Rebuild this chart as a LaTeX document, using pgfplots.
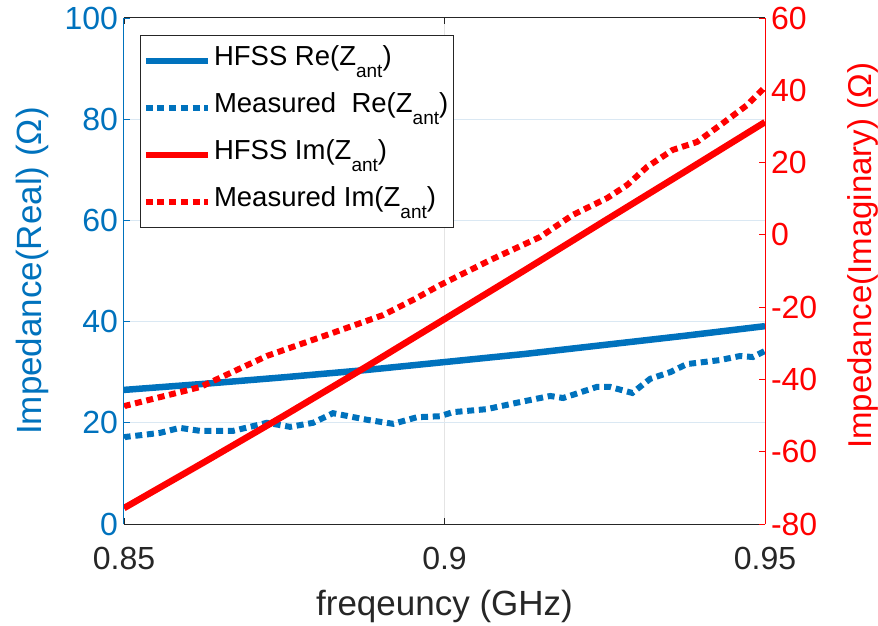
\documentclass[border=0pt]{standalone}
\usepackage{pgfplots}
\pgfplotsset{compat=1.18}
\usepackage{fontspec}
\setmainfont{Liberation Sans}
\definecolor{mblue}{RGB}{0,114,189}
\definecolor{mred}{RGB}{255,0,0}
\definecolor{mgray}{RGB}{38,38,38}
\definecolor{hgrid}{RGB}{218,232,243}
\definecolor{vgrid}{RGB}{228,228,228}
\newcommand{\sub}[1]{\raisebox{-12pt}{\fontsize{19}{19}\selectfont #1}}
\begin{document}
\begin{tikzpicture}
\begin{axis}[
  at={(0,0)}, anchor=south west,
  scale only axis, width=641pt, height=506pt,
  xmin=0.85, xmax=0.95, ymin=0, ymax=100,
  xtick={0.85,0.9,0.95}, xticklabels={0.85,0.9,0.95},
  ytick={0,20,40,60,80,100},
  axis x line*=box, axis y line*=left,
  x axis line style={draw=mgray, line width=1pt},
  y axis line style={draw=mblue, line width=1pt},
  tick align=inside, major tick length=6pt,
  every x tick/.style={draw=mgray, line width=0.8pt},
  every y tick/.style={draw=mblue, line width=0.8pt},
  xmajorgrids, ymajorgrids,
  every axis x grid/.style={draw=vgrid, line width=1pt},
  every axis y grid/.style={draw=hgrid, line width=1pt},
  /pgf/number format/assume math mode=true,
  xticklabel style={font=\fontsize{32}{38}\selectfont, text=mgray, yshift=-20pt},
  yticklabel style={font=\fontsize{32}{38}\selectfont, text=mblue, xshift=-2.5pt},
  xlabel={freqeuncy (GHz)},
  xlabel style={font=\fontsize{35}{40}\selectfont, text=mgray, at={(axis description cs:0.5,0)}, anchor=base, yshift=-91pt},
  ylabel={Impedance(Real) (Ω)},
  ylabel style={font=\fontsize{35}{40}\selectfont, text=mblue, at={(axis description cs:-0.1284,0.5)}, anchor=base, rotate=0},
]
\addplot[mblue, line width=6.5pt] coordinates {
(0.85,26.5) (0.8625,27.7) (0.875,29.0) (0.8875,30.4) (0.9,32.0) (0.9125,33.6) (0.925,35.4) (0.9375,37.2) (0.95,39.1)};
\addplot[mblue, line width=6pt, dash pattern=on 7pt off 4.7pt] coordinates {
(0.85,17.0) (0.8502,17.2) (0.8556,18.0) (0.8587,19.0) (0.8619,18.4) (0.8670,18.4) (0.8723,20.0) (0.8759,19.2) (0.8795,20.0) (0.8826,21.9) (0.8879,20.6) (0.8920,19.8) (0.8957,21.1) (0.8993,21.3) (0.9013,22.1) (0.9066,22.7) (0.9118,24.1) (0.9165,25.3) (0.9185,24.9) (0.9238,27.1) (0.9258,27.1) (0.9293,25.9) (0.9321,28.7) (0.9352,30.0) (0.9378,31.6) (0.9430,32.4) (0.9461,33.2) (0.9481,33.0) (0.95,34.2)};
\end{axis}
\begin{axis}[
  at={(0,0)}, anchor=south west,
  scale only axis, width=641pt, height=506pt,
  xmin=0.85, xmax=0.95, ymin=-80, ymax=60,
  ytick={-80,-60,-40,-20,0,20,40,60},
  axis x line=none, axis y line*=right,
  y axis line style={draw=mred, line width=1pt},
  tick align=inside, major tick length=6pt,
  every y tick/.style={draw=mred, line width=0.8pt},
  /pgf/number format/assume math mode=true,
  yticklabel style={font=\fontsize{32}{38}\selectfont, text=mred, xshift=2.5pt},
  ylabel={Impedance(Imaginary) (Ω)},
  ylabel style={font=\fontsize{33}{38}\selectfont, text=mred, at={(axis description cs:1.1654,0.53)}, anchor=base, rotate=0},
  legend style={at={(0.025,0.966)}, anchor=north west, draw=mgray, line width=1pt, fill=white,
    font=\fontsize{27.5}{30}\selectfont, inner sep=2pt, row sep=0pt,
    nodes={inner ysep=6.5pt, inner xsep=3pt, text height=21pt, text depth=13pt, anchor=west}},
  legend cell align=left,
  legend image code/.code={\draw[#1] (0pt,0pt) -- (62pt,0pt);},
]
\addlegendimage{mblue, line width=6.5pt}
\addlegendentry{HFSS Re(Z\sub{ant})}
\addlegendimage{mblue, line width=6pt, dash pattern=on 7pt off 4.7pt}
\addlegendentry{Measured\ \ Re(Z\sub{ant})}
\addplot[mred, line width=6.5pt] coordinates {
(0.85,-75.6) (0.8625,-62.9) (0.875,-50.0) (0.8875,-36.8) (0.9,-23.3) (0.9125,-9.8) (0.925,3.9) (0.9375,17.5) (0.95,31.2)};
\addlegendentry{HFSS Im(Z\sub{ant})}
\addplot[mred, line width=6pt, dash pattern=on 7pt off 4.7pt] coordinates {
(0.85,-47.6) (0.8502,-47.3) (0.8619,-42.1) (0.8723,-33.5) (0.8826,-27.1) (0.8904,-22.2) (0.8951,-18.0) (0.8993,-13.9) (0.9071,-7.0) (0.9149,-0.6) (0.9200,5.5) (0.9254,10.2) (0.9285,13.8) (0.9316,18.8) (0.9356,23.5) (0.9394,25.7) (0.9435,31.0) (0.9472,35.9) (0.95,40.9)};
\addlegendentry{Measured Im(Z\sub{ant})}
\end{axis}
\pgfresetboundingbox
\useasboundingbox (-124pt,-102pt) rectangle (754pt,524pt);
\end{tikzpicture}
\end{document}
